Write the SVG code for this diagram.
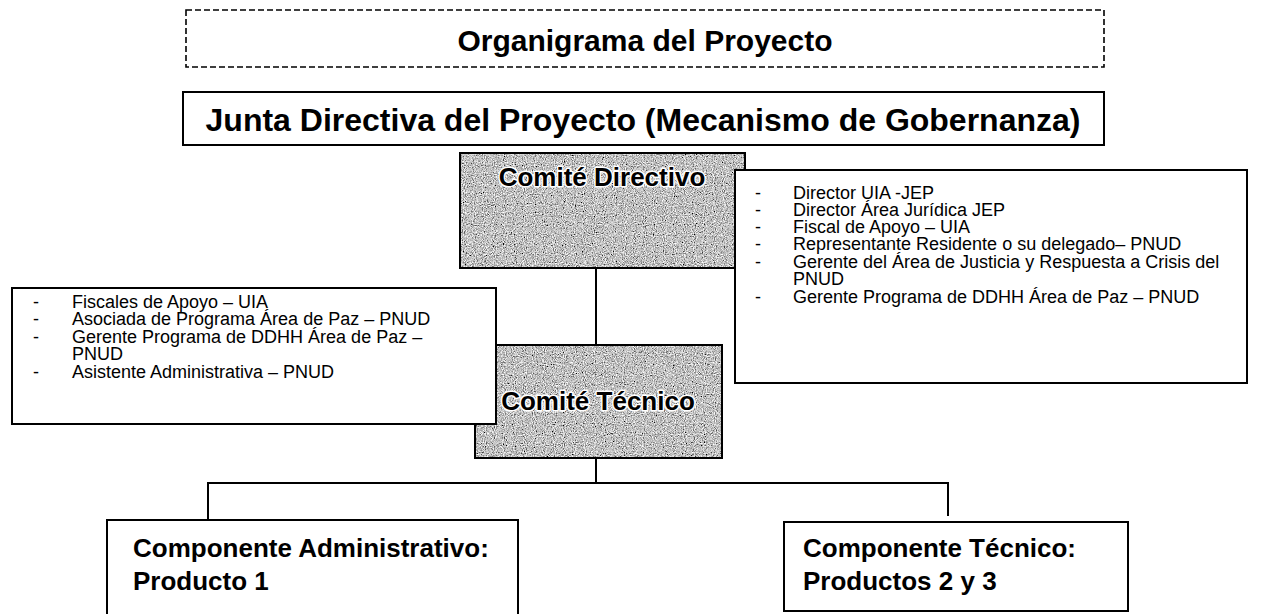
<svg xmlns="http://www.w3.org/2000/svg" width="1268" height="614" viewBox="0 0 1268 614">
<style>
.box{fill:#fff;stroke:#000;stroke-width:2}
.dash{fill:none;stroke:#000;stroke-width:1.6;stroke-dasharray:6 3}
.title{font-family:"Liberation Sans",Arial,sans-serif;font-weight:bold;fill:#000}
.lst{font-family:"Liberation Sans",Arial,sans-serif;font-size:18px;fill:#000}
.gtxt{font-family:"Liberation Sans",Arial,sans-serif;font-weight:bold;font-size:26px;fill:#000;stroke:#fff;stroke-width:3;paint-order:stroke;stroke-linejoin:round}
.comp{font-family:"Liberation Sans",Arial,sans-serif;font-weight:bold;font-size:26px;fill:#000}
.conn{fill:none;stroke:#000;stroke-width:2}
</style>
<defs>
<filter id="grain" x="0" y="0" width="100%" height="100%" filterUnits="objectBoundingBox">
<feTurbulence type="fractalNoise" baseFrequency="0.9" numOctaves="2" seed="4" result="n"/>
<feColorMatrix in="n" type="matrix" values="1.7 0 0 0 -0.32  1.7 0 0 0 -0.32  1.7 0 0 0 -0.32  0 0 0 0 1"/>
</filter>
</defs>
<rect width="1268" height="614" fill="#fff"/>

<g id="titulo">
<rect class="dash" x="186" y="10" width="918" height="57"/>
<text class="title" x="645" y="51" font-size="30" text-anchor="middle">Organigrama del Proyecto</text>
</g>

<g id="junta">
<rect class="box" x="183" y="92" width="921" height="53"/>
<text class="title" x="643" y="131" font-size="32" text-anchor="middle">Junta Directiva del Proyecto (Mecanismo de Gobernanza)</text>
</g>

<g id="connectors">
<line class="conn" x1="596" y1="268" x2="596" y2="345"/>
<line class="conn" x1="596" y1="458" x2="596" y2="483"/>
<polyline class="conn" points="208,520 208,483 948,483 948,516"/>
</g>

<g id="comite-directivo">
<rect x="460" y="153" width="285" height="115" fill="#999" filter="url(#grain)"/>
<rect x="460" y="153" width="285" height="115" fill="none" stroke="#000" stroke-width="2"/>
<text class="gtxt" x="602" y="186" text-anchor="middle">Comité Directivo</text>
</g>

<g id="comite-directivo-miembros">
<rect class="box" x="735" y="170" width="512" height="213"/>
<text class="lst">
<tspan x="755" y="199">-</tspan><tspan x="793" y="199">Director UIA -JEP</tspan>
<tspan x="755" y="216">-</tspan><tspan x="793" y="216">Director Área Jurídica JEP</tspan>
<tspan x="755" y="233">-</tspan><tspan x="793" y="233">Fiscal de Apoyo – UIA</tspan>
<tspan x="755" y="250">-</tspan><tspan x="793" y="250">Representante Residente o su delegado– PNUD</tspan>
<tspan x="755" y="268">-</tspan><tspan x="793" y="268">Gerente del Área de Justicia y Respuesta a Crisis del</tspan>
<tspan x="793" y="285">PNUD</tspan>
<tspan x="755" y="303">-</tspan><tspan x="793" y="303">Gerente Programa de DDHH Área de Paz – PNUD</tspan>
</text>
</g>

<g id="comite-tecnico">
<rect x="475" y="345" width="247" height="113" fill="#999" filter="url(#grain)"/>
<rect x="475" y="345" width="247" height="113" fill="none" stroke="#000" stroke-width="2"/>
<text class="gtxt" x="598" y="410" text-anchor="middle">Comité Técnico</text>
</g>

<g id="comite-tecnico-miembros">
<rect class="box" x="12" y="288" width="484" height="136"/>
<text class="lst">
<tspan x="33" y="307.5">-</tspan><tspan x="72" y="307.5">Fiscales de Apoyo – UIA</tspan>
<tspan x="33" y="325">-</tspan><tspan x="72" y="325">Asociada de Programa Área de Paz – PNUD</tspan>
<tspan x="33" y="342.5">-</tspan><tspan x="72" y="342.5">Gerente Programa de DDHH Área de Paz –</tspan>
<tspan x="72" y="360">PNUD</tspan>
<tspan x="33" y="377.5">-</tspan><tspan x="72" y="377.5">Asistente Administrativa – PNUD</tspan>
</text>
</g>

<g id="componente-administrativo">
<rect class="box" x="107" y="520" width="411" height="110"/>
<text class="comp" x="133" y="557">Componente Administrativo:</text>
<text class="comp" x="133" y="590">Producto 1</text>
</g>

<g id="componente-tecnico">
<rect class="box" x="784" y="522" width="344" height="89"/>
<text class="comp" x="803" y="557">Componente Técnico:</text>
<text class="comp" x="803" y="590">Productos 2 y 3</text>
</g>
</svg>
